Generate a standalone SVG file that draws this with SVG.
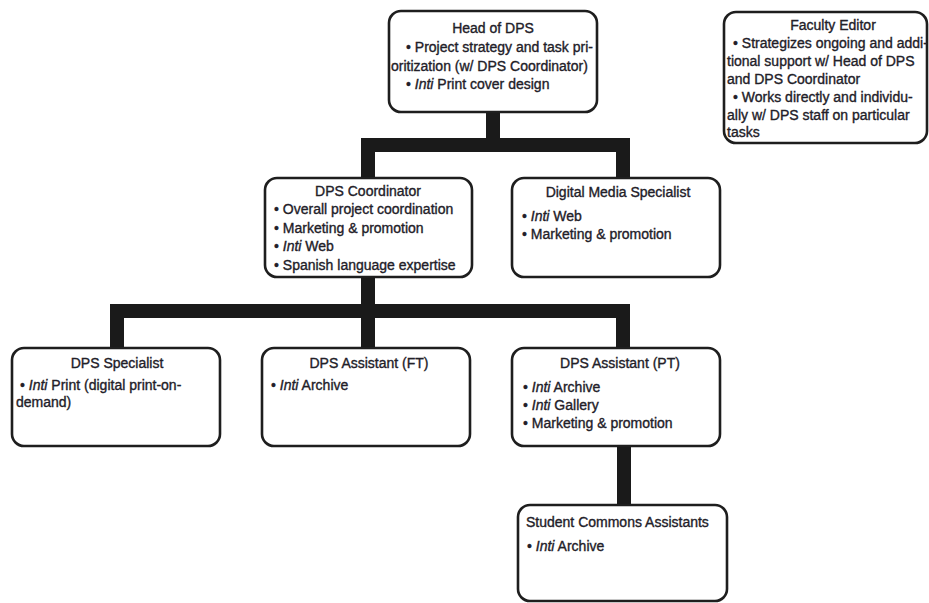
<svg xmlns="http://www.w3.org/2000/svg" width="929" height="603" viewBox="0 0 929 603">
<style>
.box{fill:#fff;stroke:#1e1e1e;stroke-width:2.6}
.con{fill:none;stroke:#1a1a1a;stroke-width:14;stroke-linejoin:miter;stroke-linecap:butt}
text{font-family:"Liberation Sans",Arial,sans-serif;font-size:14px;fill:#222028;stroke:#222028;stroke-width:0.35}
.t{text-anchor:middle}
.i{font-style:italic}
</style>
<rect width="929" height="603" fill="#fff"/>
<g id="connectors">
<path class="con" d="M493,112 V145 M368,178 V145 H623 V178"/>
<path class="con" d="M117,348 V311 H623 V348 M368,277 V348"/>
<path class="con" d="M624,446 V505"/>
</g>
<g id="head">
<rect class="box" x="389" y="11" width="208" height="101" rx="12"/>
<text class="t" x="493" y="33">Head of DPS</text>
<text x="406" y="52">• Project strategy and task pri-</text>
<text x="391" y="71">oritization (w/ DPS Coordinator)</text>
<text x="406" y="89">• <tspan class="i">Inti</tspan> Print cover design</text>
</g>
<g id="faculty">
<rect class="box" x="724" y="12" width="203" height="131" rx="12"/>
<text class="t" x="833" y="30">Faculty Editor</text>
<text x="733" y="48">• Strategizes ongoing and addi-</text>
<text x="727" y="66">tional support w/ Head of DPS</text>
<text x="727" y="84">and DPS Coordinator</text>
<text x="733" y="102">• Works directly and individu-</text>
<text x="727" y="120">ally w/ DPS staff on particular</text>
<text x="727" y="137">tasks</text>
</g>
<g id="coordinator">
<rect class="box" x="265" y="178" width="207" height="99" rx="12"/>
<text class="t" x="368" y="196">DPS Coordinator</text>
<text x="274" y="214">• Overall project coordination</text>
<text x="274" y="233">• Marketing &amp; promotion</text>
<text x="274" y="251">• <tspan class="i">Inti</tspan> Web</text>
<text x="274" y="270">• Spanish language expertise</text>
</g>
<g id="digital">
<rect class="box" x="512" y="178" width="208" height="99" rx="12"/>
<text class="t" x="618" y="197">Digital Media Specialist</text>
<text x="522" y="221">• <tspan class="i">Inti</tspan> Web</text>
<text x="522" y="239">• Marketing &amp; promotion</text>
</g>
<g id="specialist">
<rect class="box" x="12" y="348" width="208" height="98" rx="12"/>
<text class="t" x="117" y="368">DPS Specialist</text>
<text x="20" y="390">• <tspan class="i">Inti</tspan> Print (digital print-on-</text>
<text x="16" y="407">demand)</text>
</g>
<g id="assistant-ft">
<rect class="box" x="262" y="348" width="208" height="98" rx="12"/>
<text class="t" x="369" y="368">DPS Assistant (FT)</text>
<text x="271" y="390">• <tspan class="i">Inti</tspan> Archive</text>
</g>
<g id="assistant-pt">
<rect class="box" x="512" y="348" width="208" height="98" rx="12"/>
<text class="t" x="620" y="368">DPS Assistant (PT)</text>
<text x="523" y="392">• <tspan class="i">Inti</tspan> Archive</text>
<text x="523" y="410">• <tspan class="i">Inti</tspan> Gallery</text>
<text x="523" y="428">• Marketing &amp; promotion</text>
</g>
<g id="student">
<rect class="box" x="518" y="505" width="209" height="96" rx="12"/>
<text x="526" y="527">Student Commons Assistants</text>
<text x="527" y="551">• <tspan class="i">Inti</tspan> Archive</text>
</g>
</svg>
